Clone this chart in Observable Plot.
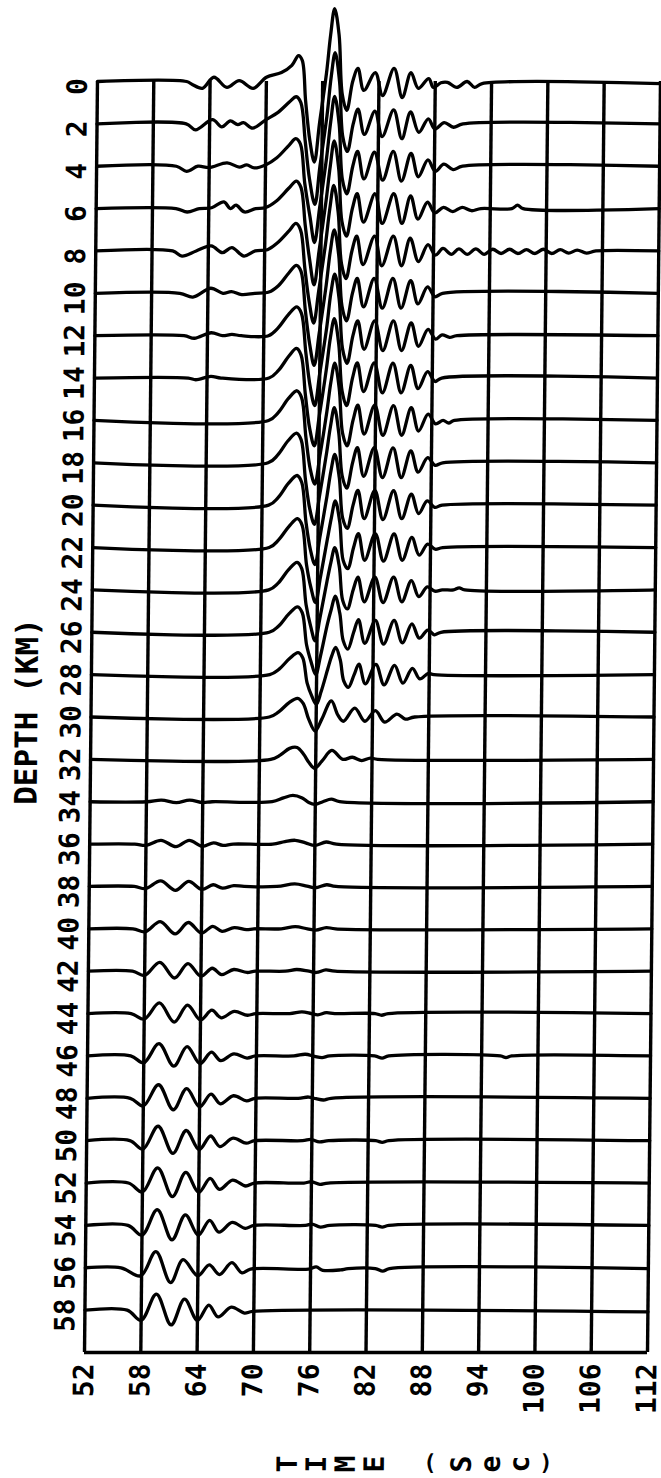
<!DOCTYPE html>
<html>
<head>
<meta charset="utf-8">
<script src="https://cdn.jsdelivr.net/npm/d3@7"></script>
<script src="https://cdn.jsdelivr.net/npm/@observablehq/plot@0.6"></script>
<style>
html, body { margin: 0; padding: 0; background: #fff; }
#wrap { position: relative; width: 661px; height: 1478px; transform: skewX(-0.585deg); transform-origin: 0 716px; }
#chart svg { display: block; }
#caption { position: absolute; left: 278px; top: 1450px; display: flex; }
#caption span { display: inline-block; width: 29px; height: 28px; line-height: 28px; text-align: center;
  font: bold 28px "DejaVu Sans Mono", monospace; color: #000; }
#caption span.rot { transform: rotate(-90deg); }
#caption span.paren { font-size: 22px; }
</style>
</head>
<body>
<div id="wrap">
  <div id="chart"></div>
  <div id="caption"></div>
</div>
<script>
// ---- data ----
const depths = [0,2,4,6,8,10,12,14,16,18,20,22,24,26,28,30,32,34,36,38,40,42,44,46,48,50,52,54,56,58];
const timeTicks = [52,58,64,70,76,82,88,94,100,106,112];
const depthTitle = "DEPTH (KM)";
const timeTitle = "TIME (Sec)";
const frameBottom = 60;      // depth at the bottom edge of the frame
const ampToDepth = 0.2;      // one amplitude unit in depth units

// [time (s), amplitude] per trace
const trace0 = [[52,0],[61.5,0],[62.1,-0.7],[63.2,-1.6],[64.4,1.0],[65.8,-1.4],[67.1,0.2],[68.6,-1.6],[70,1.0],[71.6,2.1],[72.7,3.8],[73.4,6.1],[73.8,5.0],[74.2,-4.5],[74.7,-14],[75.2,-19],[75.7,-10],[76.4,2],[76.8,11],[77.2,17.2],[77.7,11],[78.1,-3],[78.6,-6.8],[79.2,0],[79.75,3.1],[80.4,-2.1],[81.6,2.1],[82.4,-3.3],[83.6,3.1],[84.5,-3.8],[85.4,2.1],[86.2,-1.6],[87.3,0.7],[87.8,-1.4],[88.6,-0.3],[89.3,-0.2],[90.3,-1.4],[91.4,0],[92.2,-1.4],[93,-0.5],[112,-0.5]];
const trace2 = [[52,0],[61.5,0],[62.5,-1.4],[64.3,1.0],[65.3,-0.7],[66.2,0.7],[67.0,-0.2],[67.6,0.3],[68.6,-1.0],[70,1.0],[71.2,2.6],[72.5,5.2],[73.2,6.4],[73.7,5.0],[74.2,-4],[74.7,-13],[75.3,-19],[75.8,-10],[76.5,2],[76.9,11],[77.3,16.8],[77.8,10],[78.2,-3],[78.7,-6.5],[79.3,0],[79.8,3.5],[80.5,-2.5],[81.6,3.0],[82.4,-3.0],[83.6,3.3],[84.5,-3.5],[85.4,2.8],[86.3,-2.0],[87.3,1.2],[88,-1.2],[89,0.3],[90,-0.8],[91,0],[112,0]];
const trace4 = [[52,0],[60.5,0],[61.6,-1.2],[62.8,0],[64,-0.3],[65.9,0.8],[67.2,-0.2],[68,0.3],[68.8,-0.4],[70,0.3],[71.2,2.0],[72.5,5.0],[73.2,6.5],[73.7,5.2],[74.2,-4],[74.8,-12],[75.3,-18],[75.8,-10],[76.5,2],[76.9,10.5],[77.3,16.5],[77.8,10],[78.2,-3],[78.7,-6.5],[79.3,0],[79.8,3.5],[80.5,-3],[81.6,3.3],[82.5,-3.3],[83.6,3.5],[84.5,-3.5],[85.5,3.0],[86.3,-2.5],[87.3,1.5],[88.1,-1.2],[89,0.5],[90,-0.8],[91,0],[112,0]];
const trace6 = [[52,0],[60.5,0],[61.7,-0.8],[63,0],[64.3,0.2],[65.6,1.6],[66.3,0],[66.9,0.8],[67.8,-0.8],[69,0],[70,0.2],[71.2,1.8],[72.5,4.8],[73.3,6.5],[73.8,5.0],[74.3,-4],[74.8,-12],[75.3,-18],[75.8,-10],[76.5,2],[76.9,10],[77.3,16],[77.8,9.5],[78.2,-3],[78.7,-6.5],[79.3,0],[79.8,3.5],[80.5,-3.2],[81.7,3.5],[82.5,-3.5],[83.7,3.5],[84.6,-3.5],[85.5,3.0],[86.3,-2.5],[87.3,1.5],[88.1,-1.0],[89,0.3],[90,-0.7],[91,0.3],[92,-0.5],[93,0],[96.3,0],[96.9,0.8],[97.5,0],[112,0]];
const trace8 = [[52,0],[60.2,0],[61.2,-1.2],[62.7,0],[64.3,1.2],[65.5,-0.4],[66.5,0.8],[67.8,-1.2],[69,0],[70.3,0.3],[71.3,1.8],[72.6,4.8],[73.3,6.5],[73.8,5],[74.3,-4],[74.8,-12],[75.3,-17],[75.8,-9.5],[76.5,2],[76.9,10],[77.3,15.5],[77.8,9],[78.2,-3],[78.7,-6.5],[79.3,0],[79.8,3.5],[80.5,-3.2],[81.7,3.5],[82.5,-3.5],[83.7,3.5],[84.6,-3.5],[85.5,3.0],[86.4,-2.5],[87.4,1.5],[88.2,-1.0],[89,0.6],[89.9,-0.8],[90.7,0.5],[91.6,-0.8],[92.5,0.5],[93.4,-0.8],[94.3,0.4],[95.2,-0.6],[96.1,0.4],[97,-0.6],[97.9,0.3],[98.8,-0.6],[99.7,0.4],[100.6,-0.6],[101.5,0.3],[102.4,-0.5],[103.3,0.2],[104.3,-0.5],[105.3,0],[112,0]];
const trace10 = [[52,0],[61,0],[62.4,-0.9],[64.3,1.2],[65.6,0],[66.5,0.4],[67.6,-0.3],[69,0],[70.5,0.3],[71.5,1.8],[72.6,4.8],[73.4,6.6],[73.9,5.2],[74.4,-4],[74.9,-12],[75.4,-17],[75.9,-9.5],[76.6,2],[77,10],[77.4,15],[77.9,9],[78.3,-3],[78.8,-6.5],[79.4,0],[79.9,3.5],[80.6,-3.2],[81.7,3.5],[82.6,-3.5],[83.7,3.5],[84.6,-3.5],[85.6,3.0],[86.4,-2.5],[87.4,1.5],[88.2,-0.8],[89,0],[112,0]];
const trace12 = [[52,0],[61.5,0],[62.6,-0.6],[64.4,0.7],[65.6,0],[66.6,0.3],[67.6,0],[70.5,0],[71.5,1.8],[72.6,5],[73.5,6.8],[74,5.2],[74.5,-4],[75,-12],[75.5,-16.5],[76,-9],[76.7,2],[77.1,10],[77.5,14.5],[78,8.5],[78.4,-3],[78.9,-6.5],[79.5,0],[80,3.5],[80.7,-3.2],[81.8,3.5],[82.7,-3.5],[83.8,3.5],[84.7,-3.5],[85.7,3.0],[86.5,-2.5],[87.5,1.5],[88.3,-0.8],[89,0.2],[89.8,-0.4],[90.6,0],[112,0]];
const trace14 = [[52,0],[62,0],[62.8,-0.4],[64.4,0.4],[65.5,0],[70.6,0],[71.6,1.8],[72.7,5.2],[73.5,7.0],[74,5.4],[74.5,-4],[75,-12],[75.5,-16],[76,-9],[76.7,2],[77.1,9.5],[77.5,14],[78,8],[78.4,-3],[78.9,-6.5],[79.5,0],[80,3.6],[80.7,-3.2],[81.8,3.6],[82.7,-3.5],[83.8,3.5],[84.7,-3.5],[85.7,3.0],[86.5,-2.5],[87.5,1.5],[88.3,-0.8],[89,0],[112,0]];
const trace16 = [[52,0],[70.6,0],[71.6,1.8],[72.7,5.2],[73.6,7.0],[74.1,5.4],[74.6,-4],[75.1,-11.5],[75.6,-15],[76.1,-8.5],[76.8,2],[77.2,9],[77.6,13.5],[78.1,7.5],[78.5,-3],[79,-6],[79.6,0],[80.1,3.6],[80.8,-3.2],[81.9,3.6],[82.8,-3.5],[83.9,3.5],[84.8,-3.5],[85.8,3.0],[86.6,-2.5],[87.6,1.5],[88.4,-0.8],[89.2,0],[89.8,-0.6],[90.4,0],[112,0]];
const trace18 = [[52,0],[70.6,0],[71.6,1.8],[72.7,5.2],[73.6,7.0],[74.1,5.4],[74.6,-4],[75.1,-11],[75.6,-14.5],[76.1,-8],[76.8,2],[77.2,8.5],[77.6,13],[78.1,7],[78.5,-3],[79,-6],[79.6,0],[80.1,3.6],[80.8,-3.2],[81.9,3.6],[82.8,-3.5],[83.9,3.5],[84.8,-3.5],[85.8,2.8],[86.6,-2.2],[87.6,1.2],[88.4,-0.6],[89.2,0],[112,0]];
const trace20 = [[52,0],[70.7,0],[71.7,1.8],[72.8,5.2],[73.7,7.0],[74.2,5.4],[74.7,-4],[75.2,-10.5],[75.7,-14],[76.2,-7.5],[76.9,2],[77.3,8],[77.7,12],[78.2,6.5],[78.6,-3],[79.1,-5.5],[79.7,0],[80.2,3.5],[80.9,-3.2],[82,3.5],[82.9,-3.4],[84,3.4],[84.9,-3.2],[85.9,2.6],[86.7,-2],[87.6,1],[88.4,-0.5],[89.2,0],[112,0]];
const trace22 = [[52,0],[70.8,0],[71.8,1.8],[72.9,5],[73.8,6.8],[74.3,5.2],[74.8,-4],[75.3,-9.5],[75.8,-13],[76.3,-7],[77,2],[77.4,7],[77.8,11],[78.3,6],[78.7,-3],[79.2,-5],[79.8,0],[80.3,3.3],[81,-3],[82.1,3.3],[83,-3.2],[84.1,3.2],[85,-3],[86,2.4],[86.8,-1.8],[87.7,0.8],[88.5,-0.4],[89.3,0],[112,0]];
const trace24 = [[52,0],[70.8,0],[71.8,1.6],[72.9,4.8],[73.8,6.5],[74.3,5],[74.8,-3.5],[75.3,-8.5],[75.8,-12],[76.3,-6.5],[77,2],[77.4,6.5],[77.8,10],[78.3,5.5],[78.7,-2.5],[79.2,-4.5],[79.8,0],[80.3,3],[81,-2.8],[82.1,3],[83,-3],[84.1,3],[85,-2.8],[86,2.2],[86.8,-1.6],[87.7,0.7],[88.5,-0.3],[89.3,0],[90.5,0],[91.1,0.5],[91.7,0],[112,0]];
const trace26 = [[52,0],[70.9,0],[71.9,1.5],[73,4.4],[73.9,6.0],[74.4,4.6],[74.9,-3],[75.4,-7],[75.9,-10],[76.4,-5.5],[77.1,2],[77.5,5.5],[77.9,8.5],[78.4,4.5],[78.8,-2],[79.3,-4],[79.9,0],[80.4,3],[81.1,-2.6],[82.2,2.8],[83.1,-2.8],[84.2,2.8],[85.1,-2.5],[86.1,2],[86.9,-1.4],[87.8,0.5],[88.5,-0.6],[89.2,0],[112,0]];
const trace28 = [[52,0],[71,0],[72,1.3],[73.1,3.8],[74,5.2],[74.5,4],[75,-2],[75.5,-5],[76,-7],[76.5,-4],[77.2,1.5],[77.6,4.5],[78,6.4],[78.5,3.5],[78.9,-1.5],[79.4,-3],[80,0],[80.5,2.5],[81.2,-2.2],[82.3,2.4],[83.2,-2.4],[84.3,2.2],[85.2,-2],[86.2,1.5],[87,-1],[87.9,0.3],[88.5,0],[112,0]];
const trace30 = [[52,0],[71,0],[72,1.2],[73.1,3.4],[74,4.4],[74.6,3.2],[75.2,-0.5],[75.9,-3.3],[76.6,-0.5],[77.6,3.8],[78.3,0.5],[78.9,-1],[80.1,2.1],[81.2,-1],[82.3,1.5],[83.3,-1.2],[84.6,0.7],[85.5,-0.5],[86.5,0],[112,0]];
const trace32 = [[52,0],[71.2,0],[72.2,1],[73.2,2.6],[74,2.8],[74.7,1.2],[75.3,-0.8],[75.9,-2.1],[76.7,-0.3],[77.7,2.1],[78.9,0],[79.9,0.5],[80.9,-0.3],[81.8,0.3],[82.6,0],[112,0]];
const trace34 = [[52,0],[58,0],[59.6,0.4],[61.2,-0.2],[62.6,0.4],[64,-0.2],[65,0],[71.4,0],[72.6,0.9],[73.6,1.5],[74.6,0.9],[75.3,-0.2],[76,-0.6],[76.8,0],[77.7,0.6],[78.6,0],[112,0]];
const trace36 = [[52,0],[56.8,0],[58,-0.3],[59.6,0.9],[61.2,-0.6],[62.6,0.9],[64,-0.5],[65.2,0.3],[66.2,-0.3],[67.3,0],[71.5,0],[72.8,0.6],[73.9,0.9],[75,0.3],[76,-0.3],[77.2,0.5],[78.3,0],[112,0]];
const trace38 = [[52,0],[56.8,0],[58,-0.5],[59.6,1.3],[61.2,-0.9],[62.6,1.2],[64,-0.7],[65.2,0.4],[66.2,-0.4],[67.4,0.2],[68.5,0],[72,0],[73.9,0.6],[75.2,0.1],[76.1,-0.3],[77.3,0.4],[78.3,0],[112,0]];
const trace40 = [[52,0],[56.7,0],[58,-0.7],[59.6,1.7],[61.2,-1.2],[62.6,1.5],[64,-1],[65.2,0.6],[66.2,-0.6],[67.5,0.3],[68.8,-0.2],[69.6,0],[72.5,0],[74,0.5],[75.3,0],[76.2,-0.3],[77.3,0.3],[78.3,0],[112,0]];
const trace42 = [[52,0],[56.7,0],[58,-1],[59.6,2.1],[61.2,-1.6],[62.6,1.8],[64,-1.2],[65.2,0.7],[66.2,-0.8],[67.5,0.4],[68.9,-0.3],[69.8,0],[73,0],[74.2,0.4],[75.5,0],[76.3,-0.3],[77.3,0.3],[78.3,0],[112,0]];
const trace44 = [[52,0],[56.6,0],[58,-1.3],[59.6,2.5],[61.2,-2],[62.6,2],[64,-1.5],[65.2,0.8],[66.2,-1],[67.6,0.5],[69,-0.4],[69.9,0],[73.5,0],[74.8,0.4],[75.8,0],[76.5,-0.3],[77.4,0.2],[78.3,0],[82.6,0],[83.3,-0.4],[84,0],[112,0]];
const trace46 = [[52,0],[56.6,0],[58,-1.6],[59.6,2.9],[61.2,-2.4],[62.6,2.2],[64,-1.8],[65.2,0.9],[66.2,-1.1],[67.6,0.5],[69,-0.5],[69.9,0],[74,0],[75.2,0.4],[76.2,-0.1],[77,-0.4],[77.8,0],[82.6,0],[83.4,-0.5],[84.1,0],[96,0],[96.6,-0.4],[97.2,0],[112,0]];
const trace48 = [[52,0],[56.6,0],[58,-1.8],[59.6,3.2],[61.2,-2.7],[62.6,2.3],[64,-2],[65.2,1],[66.2,-1.3],[67.6,0.6],[69,-0.6],[69.9,0],[74.5,0],[75.6,0.3],[76.4,-0.1],[77.2,-0.4],[78,0],[112,0]];
const trace50 = [[52,0],[56.6,0],[58,-2],[59.6,3.4],[61.2,-3],[62.6,2.4],[64,-2.1],[65.2,1.1],[66.2,-1.4],[67.6,0.6],[69,-0.6],[69.9,0],[75,0],[75.9,0.3],[76.8,-0.3],[77.8,0],[82.8,0],[83.5,-0.4],[84.2,0],[112,0]];
const trace52 = [[52,0],[56.5,0],[58,-2.1],[59.6,3.6],[61.2,-3.2],[62.6,2.5],[64,-2.2],[65.2,1.1],[66.2,-1.5],[67.6,0.7],[69,-0.7],[69.9,0],[75.2,0],[76,0.3],[76.9,-0.3],[77.8,0],[112,0]];
const trace54 = [[52,0],[56.5,0],[58,-2.3],[59.6,3.7],[61.2,-3.4],[62.6,2.5],[64,-2.3],[65.2,1.2],[66.2,-1.6],[67.6,0.7],[69,-0.7],[69.9,0],[75.4,0],[76.1,0.3],[77,-0.4],[78,0],[82.9,0],[83.6,-0.4],[84.3,0],[112,0]];
const trace56 = [[52,0],[55.8,0],[57.9,-1.9],[59.5,3.8],[61.1,-3.5],[62.4,1.9],[64,-1.9],[65.2,0.7],[66.3,-1.6],[67.6,1.2],[68.7,-1.2],[69.6,-0.3],[75.8,-0.3],[76.6,0.2],[77.3,-0.6],[79.2,-0.5],[80,-0.2],[82.9,-0.2],[83.7,-0.8],[84.4,-0.2],[112,-0.2]];
const trace58 = [[52,0],[56.5,0],[58,-2.4],[59.6,3.8],[61.2,-3.5],[62.6,2.6],[64,-2.4],[65.2,1.2],[66.2,-1.6],[67.6,0.7],[69,-0.7],[69.9,-0.3],[112,-0.4]];

const traces = [trace0, trace2, trace4, trace6, trace8, trace10, trace12, trace14, trace16, trace18,
  trace20, trace22, trace24, trace26, trace28, trace30, trace32, trace34, trace36, trace38,
  trace40, trace42, trace44, trace46, trace48, trace50, trace52, trace54, trace56, trace58];

const rows = depths.flatMap((d, i) => traces[i].map(([t, a]) => ({depth: d, t, y: d - a * ampToDepth})));

const font = "DejaVu Sans Mono";
const tMin = timeTicks[0], tMax = timeTicks[timeTicks.length - 1];

const chart = Plot.plot({
  width: 661,
  height: 1440,
  marginTop: 81,
  marginBottom: 88,
  marginLeft: 90.5,
  marginRight: 7.5,
  style: {background: "white", overflow: "visible"},
  x: {domain: [tMin, tMax], axis: null},
  y: {domain: [depths[0], frameBottom], reverse: true, axis: null},
  marks: [
    Plot.ruleX(timeTicks, {x: d => d, y1: depths[0], y2: frameBottom, stroke: "black", strokeWidth: 3.4}),
    Plot.ruleY([frameBottom], {y: d => d, x1: tMin, x2: tMax, stroke: "black", strokeWidth: 3.4}),
    Plot.line(rows, {x: "t", y: "y", z: "depth", curve: "catmull-rom", stroke: "black", strokeWidth: 3.3, strokeLinejoin: "round", strokeLinecap: "round"}),
    Plot.text(depths, {x: tMin, y: d => d, text: d => String(d), rotate: -90, textAnchor: "middle",
      dx: -19.5, dy: 5, fontSize: 28, fontWeight: "bold", fontFamily: font, fill: "black"}),
    Plot.text(timeTicks, {x: d => d, y: frameBottom, text: d => String(d), rotate: -90, textAnchor: "end",
      dy: 11, fontSize: 28, fontWeight: "bold", fontFamily: font, fill: "black"}),
    Plot.text([depthTitle], {frameAnchor: "left", text: d => d, rotate: -90, textAnchor: "middle",
      dx: -63.5, dy: -5.5, fontSize: 31, fontWeight: "bold", fontFamily: font, fill: "black"})
  ]
});
document.getElementById("chart").appendChild(chart);

// axis title below the plot: each letter turned, as in the original
const cap = document.getElementById("caption");
for (const ch of timeTitle) {
  const s = document.createElement("span");
  s.textContent = ch === " " ? "\u00a0" : ch;
  s.className = (ch === "(" || ch === ")") ? "paren" : "rot";
  cap.appendChild(s);
}
</script>
</body>
</html>
